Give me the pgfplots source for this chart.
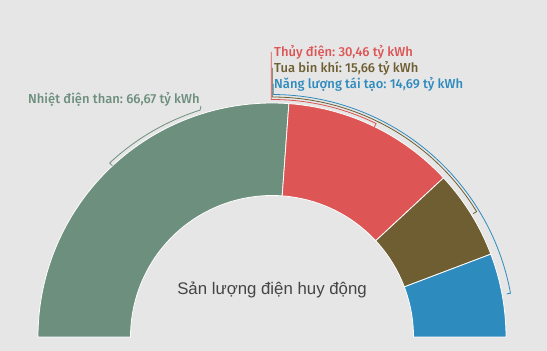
\documentclass[border=0pt]{standalone}
\usepackage{fontspec}
\setmainfont{Liberation Sans}
\newfontfamily\medfont{Fira Sans}[UprightFont=* Medium]
\usepackage{pgfplots}
\usepackage{pgfplotstable}
\pgfplotsset{compat=1.18}
\usetikzlibrary{calc}
\definecolor{bg}{HTML}{E6E6E6}
\definecolor{cA}{HTML}{6D8F7D}
\definecolor{cB}{HTML}{DD5555}
\definecolor{cC}{HTML}{6E5E32}
\definecolor{cD}{HTML}{2E8BBE}
\definecolor{ttl}{HTML}{444444}

\pgfplotstableread{
name value
than 66.67
thuy 30.46
khi 15.66
taitao 14.69
}\datatable

\pgfplotstablegetelem{0}{value}\of\datatable \let\vA\pgfplotsretval
\pgfplotstablegetelem{1}{value}\of\datatable \let\vB\pgfplotsretval
\pgfplotstablegetelem{2}{value}\of\datatable \let\vC\pgfplotsretval
\pgfplotstablegetelem{3}{value}\of\datatable \let\vD\pgfplotsretval
\pgfmathsetmacro\tot{\vA+\vB+\vC+\vD}
\pgfmathsetmacro\aA{180}
\pgfmathsetmacro\aB{\aA-180*\vA/\tot}
\pgfmathsetmacro\aC{\aB-180*\vB/\tot}
\pgfmathsetmacro\aD{\aC-180*\vC/\tot}
\pgfmathsetmacro\aE{\aD-180*\vD/\tot}

\newcommand\slice[3]{%
  \fill[#3,draw=white,line width=0.8pt]
    ($(axis cs:272,14)+(#1:234pt)$) arc[start angle=#1,end angle=#2,radius=234pt]
    -- ($(axis cs:272,14)+(#2:141.5pt)$) arc[start angle=#2,end angle=#1,radius=141.5pt] -- cycle;}

\begin{document}
\frenchspacing
\begin{tikzpicture}
\begin{axis}[
  scale only axis, width=547pt, height=351pt,
  xmin=0, xmax=547, ymin=0, ymax=351,
  hide axis, clip=false]
  \fill[bg] (axis cs:0,0) rectangle (axis cs:547,351);
  \slice{\aA}{\aB}{cA}
  \slice{\aB}{\aC}{cB}
  \slice{\aC}{\aD}{cC}
  \slice{\aD}{\aE}{cD}
  % connectors
  \draw[cA,line width=0.8pt] (axis cs:201,245) -- ($(axis cs:272,14)+(107.6:238pt)$)
     arc[start angle=107.6,end angle=133,radius=238pt] -- ++(-47:4pt);
  \draw[cB,line width=0.8pt] (axis cs:271.2,299) -- ($(axis cs:272,14)+(90.2:237.5pt)$)
     arc[start angle=90.2,end angle=64,radius=237.5pt] -- ++(244:4pt);
  \draw[cC,line width=0.8pt] (axis cs:272.2,283) -- ($(axis cs:272,14)+(89.95:240pt)$)
     arc[start angle=89.95,end angle=31.5,radius=240pt] -- ++(211.5:4pt);
  \draw[cD,line width=0.8pt] (axis cs:273.2,267) -- ($(axis cs:272,14)+(89.7:242.5pt)$)
     arc[start angle=89.7,end angle=10.4,radius=242.5pt] -- ++(190.4:4pt);
  % labels
  \node[anchor=base west,inner sep=0pt,text=cA,font=\medfont\fontsize{13}{15}\selectfont] at (axis cs:28,247) {Nhiệt điện than: 66,67 tỷ kWh};
  \node[anchor=base west,inner sep=0pt,text=cB,font=\medfont\fontsize{13}{15}\selectfont] at (axis cs:274,294) {Thủy điện: 30,46 tỷ kWh};
  \node[anchor=base west,inner sep=0pt,text=cC,font=\medfont\fontsize{13}{15}\selectfont] at (axis cs:274,278) {Tua bin khí: 15,66 tỷ kWh};
  \node[anchor=base west,inner sep=0pt,text=cD,font=\medfont\fontsize{13}{15}\selectfont] at (axis cs:274,262) {Năng lượng tái tạo: 14,69 tỷ kWh};
  \node[anchor=base,inner sep=0pt,text=ttl,font=\fontsize{16.8}{19}\selectfont] at (axis cs:272,56) {Sản lượng điện huy động};
\end{axis}
\end{tikzpicture}
\end{document}
